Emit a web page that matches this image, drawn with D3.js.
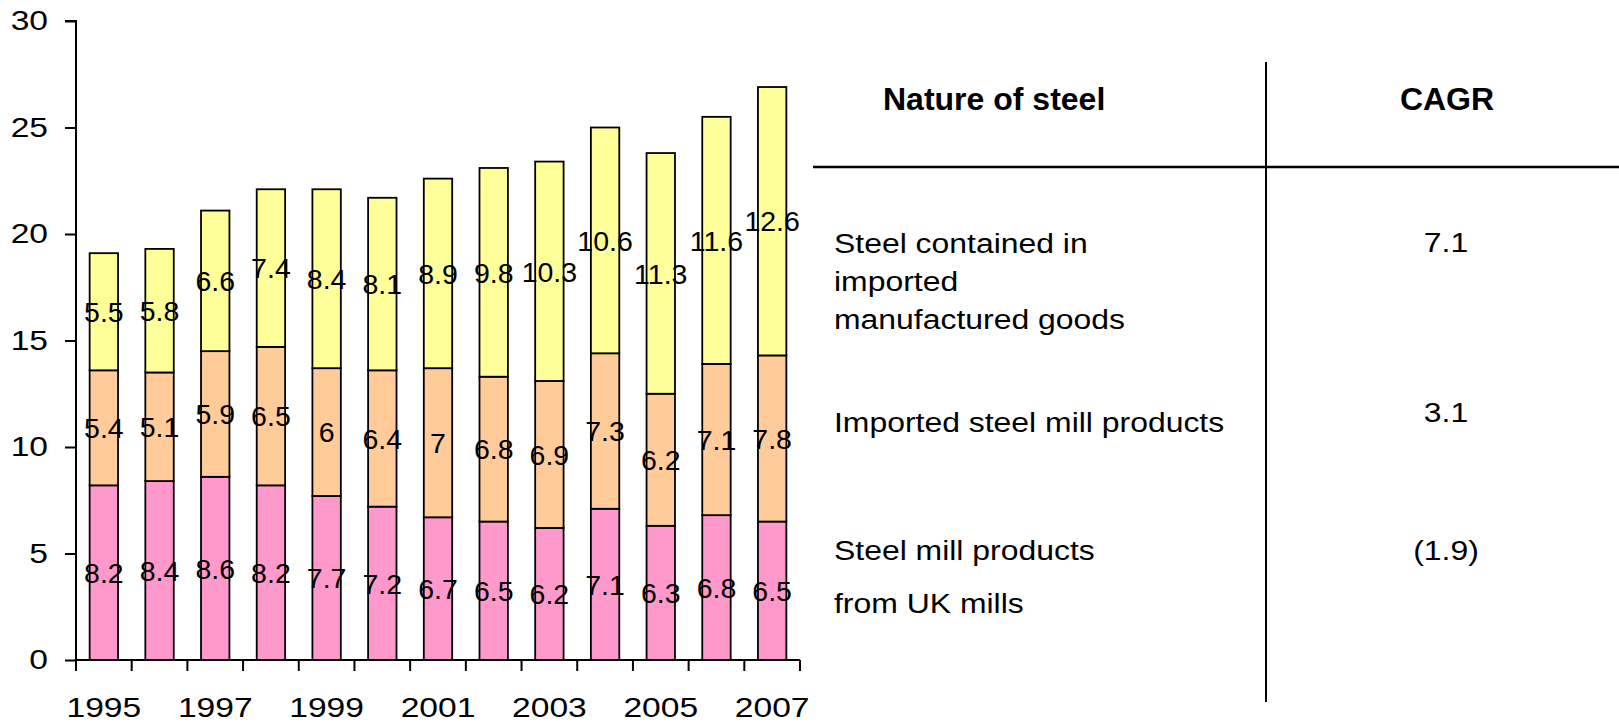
<!DOCTYPE html>
<html>
<head>
<meta charset="utf-8">
<script src="https://cdn.jsdelivr.net/npm/d3@7/dist/d3.min.js"></script>
<style>
  html, body { margin: 0; padding: 0; background: #fff; }
  svg { display: block; font-family: "Liberation Sans", Arial, Helvetica, sans-serif; }
</style>
</head>
<body>
<svg id="chart" width="1619" height="723"></svg>
<script>
// ---- data ----
const years = ["1995","1996","1997","1998","1999","2000","2001","2002","2003","2004","2005","2006","2007"];
const ukMills = [8.2, 8.4, 8.6, 8.2, 7.7, 7.2, 6.7, 6.5, 6.2, 7.1, 6.3, 6.8, 6.5];
const importedMill = [5.4, 5.1, 5.9, 6.5, 6, 6.4, 7, 6.8, 6.9, 7.3, 6.2, 7.1, 7.8];
const importedGoods = [5.5, 5.8, 6.6, 7.4, 8.4, 8.1, 8.9, 9.8, 10.3, 10.6, 11.3, 11.6, 12.6];
const seriesKeys = ["ukMills", "importedMill", "importedGoods"];
const seriesColors = ["#FF99CC", "#FFCC99", "#FFFF99"];
const yTicks = [0, 5, 10, 15, 20, 25, 30];
const yearLabelEvery = 2;

const tableHeader = ["Nature of steel", "CAGR"];
const tableRows = [
  { lines: ["Steel contained in", "imported", "manufactured goods"], cagr: "7.1" },
  { lines: ["Imported steel mill products"], cagr: "3.1" },
  { lines: ["Steel mill products", "from UK mills"], cagr: "(1.9)" }
];

// ---- layout ----
const svg = d3.select("#chart");
const plot = { left: 76, right: 800, top: 21, bottom: 660 };
const sx = 1.2; // horizontal stretch of axis texts

const rows = years.map((yr, i) => ({ year: yr, ukMills: ukMills[i], importedMill: importedMill[i], importedGoods: importedGoods[i] }));
const stack = d3.stack().keys(seriesKeys)(rows);

const x = d3.scaleBand().domain(years).range([plot.left, plot.right]).paddingInner(0.49).paddingOuter(0.245);
const y = d3.scaleLinear().domain([0, 30]).range([plot.bottom, plot.top]);

// bars
const layers = svg.append("g").selectAll("g").data(stack).join("g")
  .attr("fill", (d, i) => seriesColors[i]);
layers.selectAll("rect").data(d => d).join("rect")
  .attr("x", d => x(d.data.year))
  .attr("width", x.bandwidth())
  .attr("y", d => y(d[1]))
  .attr("height", d => y(d[0]) - y(d[1]))
  .attr("stroke", "#000")
  .attr("stroke-width", 1.8);

// data labels
const labG = svg.append("g");
stack.forEach(layer => {
  layer.forEach(d => {
    const v = d[1] - d[0];
    labG.append("text")
      .attr("x", x(d.data.year) + x.bandwidth() / 2)
      .attr("y", (y(d[0]) + y(d[1])) / 2)
      .attr("dy", "0.36em")
      .attr("text-anchor", "middle")
      .attr("font-size", 28.5)
      .attr("fill", "#000")
      .text(d3.format("~g")(Math.round(v * 10) / 10));
  });
});

// y axis
const yAxis = svg.append("g").attr("transform", `translate(${plot.left},0)`)
  .call(d3.axisLeft(y).tickValues(yTicks).tickSize(11).tickPadding(17).tickFormat(d3.format("d")));
yAxis.select(".domain").attr("stroke", "#000").attr("stroke-width", 2).attr("d", `M-11,${y(30)}H0V${y(0)}`);
yAxis.selectAll(".tick line").attr("stroke", "#000").attr("stroke-width", 2);
yAxis.selectAll(".tick text")
  .attr("font-size", 28).attr("fill", "#000").attr("font-family", null)
  .attr("x", -28 / sx).attr("transform", `scale(${sx},1)`);

// x axis (ticks at category boundaries, labels under every other category)
const xAxis = svg.append("g").attr("transform", `translate(0,${plot.bottom})`);
xAxis.append("line").attr("x1", plot.left).attr("x2", plot.right).attr("stroke", "#000").attr("stroke-width", 2);
const boundaries = d3.range(years.length + 1).map(i => plot.left + i * x.step());
xAxis.selectAll("line.tk").data(boundaries).join("line").attr("class", "tk")
  .attr("x1", d => d).attr("x2", d => d).attr("y1", 0).attr("y2", 11)
  .attr("stroke", "#000").attr("stroke-width", 2);
xAxis.selectAll("text").data(years.filter((d, i) => i % yearLabelEvery === 0)).join("text")
  .attr("transform", d => `translate(${x(d) + x.bandwidth() / 2},57) scale(${sx},1)`)
  .attr("text-anchor", "middle")
  .attr("font-size", 28)
  .attr("fill", "#000")
  .text(d => d);

// ---- table ----
const tbl = svg.append("g");
tbl.append("line").attr("x1", 1266).attr("x2", 1266).attr("y1", 62).attr("y2", 702).attr("stroke", "#000").attr("stroke-width", 2);
tbl.append("line").attr("x1", 813).attr("x2", 1619).attr("y1", 167).attr("y2", 167).attr("stroke", "#000").attr("stroke-width", 2.5);

tbl.append("text").attr("x", 883).attr("y", 110).attr("font-size", 32).attr("font-weight", "bold").text(tableHeader[0]);
tbl.append("text").attr("x", 1447).attr("y", 110).attr("font-size", 32).attr("font-weight", "bold").attr("text-anchor", "middle").text(tableHeader[1]);

const bodySx = 1.14;
const rowBaselines = [[253, 291, 329], [432], [560, 613]];
const cagrBaselines = [252, 422, 560];
tableRows.forEach((r, ri) => {
  r.lines.forEach((ln, li) => {
    tbl.append("text")
      .attr("transform", `translate(834,${rowBaselines[ri][li]}) scale(${bodySx},1)`)
      .attr("font-size", 28)
      .text(ln);
  });
  tbl.append("text")
    .attr("transform", `translate(1446,${cagrBaselines[ri]}) scale(${bodySx},1)`)
    .attr("font-size", 28)
    .attr("text-anchor", "middle")
    .text(r.cagr);
});
</script>
</body>
</html>
